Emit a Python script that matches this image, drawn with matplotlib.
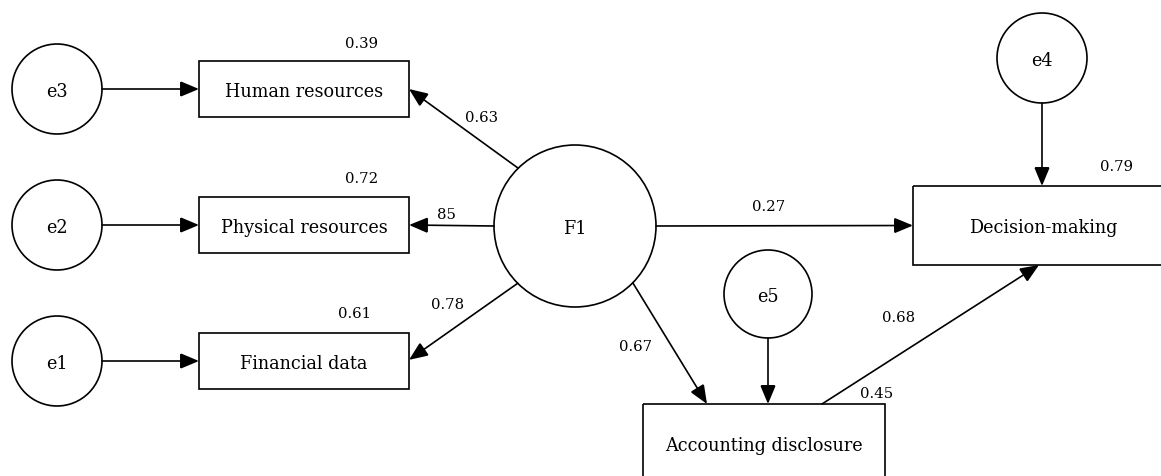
import numpy as np
import matplotlib
matplotlib.use("Agg")
import matplotlib.pyplot as plt
from matplotlib.patches import Circle, Rectangle, FancyArrowPatch

# path coefficients and explained variances
observed = ["Human resources", "Physical resources", "Financial data"]
loadings = ["0.63", "85", "0.78"]
r2_observed = ["0.39", "0.72", "0.61"]
errors = ["e3", "e2", "e1"]
r2_decision = "0.79"
r2_disclosure = "0.45"
path_f1_decision = "0.27"
path_f1_disclosure = "0.67"
path_disclosure_decision = "0.68"

W, H = 1161, 477
plt.rcParams['font.family'] = ['DejaVu Serif']

fig = plt.figure(figsize=(W / 100, H / 100), dpi=100)
ax = fig.add_axes([0, 0, 1, 1])
ax.set_xlim(0, W)
ax.set_ylim(H, 0)
ax.set_aspect('equal')
ax.axis('off')

LW = 1.2
LABEL_FS = 12.7
NUM_FS = 10.7


def circle(cx, cy, r, text):
    ax.add_patch(Circle((cx, cy), r, fill=False, lw=LW, ec='black'))
    ax.text(cx, cy, text, ha='center', va='center_baseline', fontsize=LABEL_FS)
    return (cx, cy, r)


def box(x, y, w, h, text, ty=None):
    ax.add_patch(Rectangle((x, y), w, h, fill=False, lw=LW, ec='black'))
    ax.text(x + w / 2, y + h / 2 if ty is None else ty, text,
            ha='center', va='center_baseline', fontsize=LABEL_FS)
    return (x, y, w, h)


def num(x, y, s):
    ax.text(x, y, s, ha='center', va='center_baseline', fontsize=NUM_FS)


def on_circle(c, ang):
    a = np.deg2rad(ang)
    return (c[0] + c[2] * np.cos(a), c[1] + c[2] * np.sin(a))


def on_box(b, fx, fy):
    return (b[0] + b[2] * fx, b[1] + b[3] * fy)


def arrow(p0, p1):
    # arrowstyle params are in points (mutation_scale=1)
    ax.add_patch(FancyArrowPatch(p0, p1, arrowstyle='-|>,head_length=11.5,head_width=4.8',
                                 mutation_scale=1, shrinkA=0, shrinkB=0, lw=LW,
                                 color='black', joinstyle='miter'))


f1 = circle(575, 227, 81, "F1")

rows_y = [90, 226, 362]
starts = [225.5, 180, 135]
ends_y = [0.5, 0.5, 0.48]
load_pos = [(482, 117), (446, 214), (448, 304)]
r2_pos = [(362, 42), (362, 178), (355, 313)]
for i, name in enumerate(observed):
    yc = rows_y[i]
    e = circle(57, yc, 45, errors[i])
    b = box(199, yc - 28, 210, 56, name)
    arrow(on_circle(e, 0), on_box(b, 0, 0.5))
    arrow(on_circle(f1, starts[i]), on_box(b, 1, ends_y[i]))
    num(*r2_pos[i], r2_observed[i])
    num(*load_pos[i], loadings[i])

dm = box(913, 187, 260, 79, "Decision-making")
e4 = circle(1042, 59, 45, "e4")
arrow(on_circle(e4, 90), on_box(dm, (1042 - 913) / 260, 0))
num(1117, 166, r2_decision)

ad = box(643, 405, 242, 90, "Accounting disclosure", ty=444)
e5 = circle(768, 295, 44, "e5")
arrow(on_circle(e5, 90), on_box(ad, (768 - 643) / 242, 0))
num(877, 393, r2_disclosure)

arrow(on_circle(f1, 0), on_box(dm, 0, 0.5))
num(769, 206, path_f1_decision)

arrow(on_circle(f1, 44.5), on_box(ad, (707 - 643) / 242, 0))
num(636, 346, path_f1_disclosure)

arrow(on_box(ad, (822 - 643) / 242, 0), on_box(dm, (1039 - 913) / 260, 1))
num(899, 317, path_disclosure_decision)

fig.savefig("out.png", dpi=100)
